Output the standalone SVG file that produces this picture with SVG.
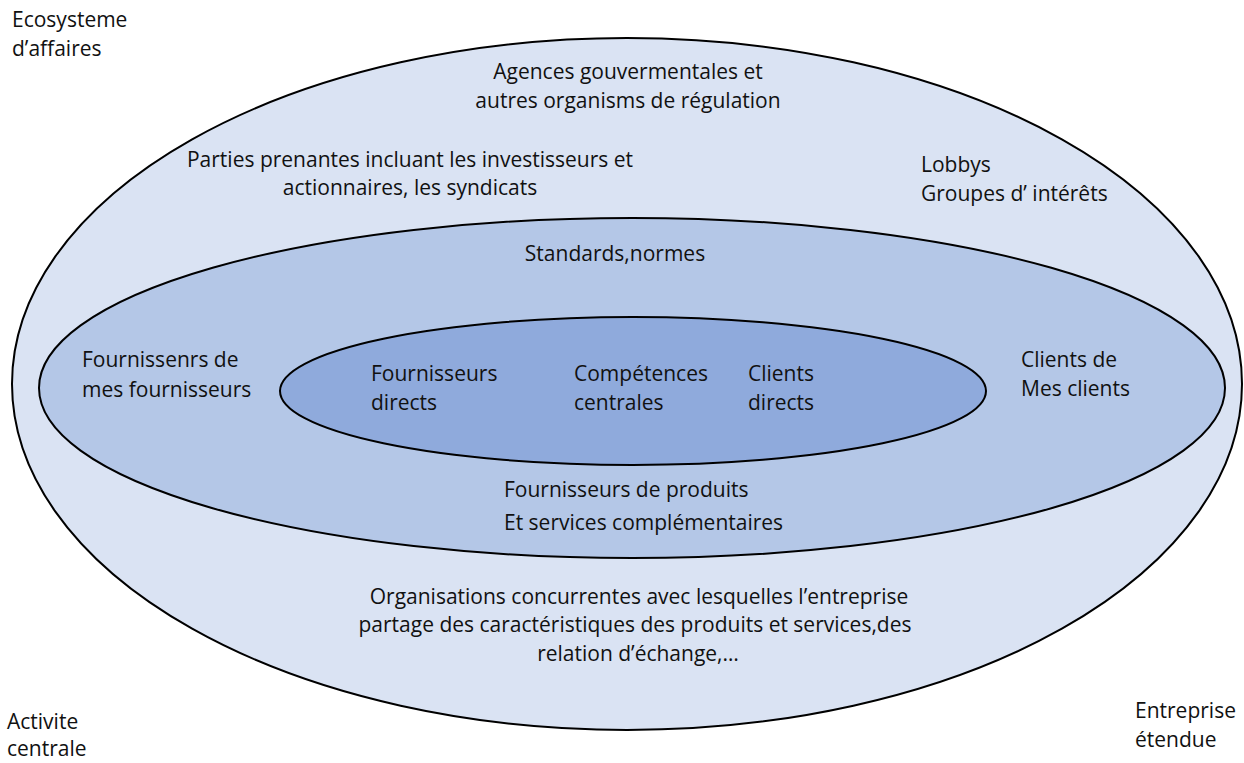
<svg xmlns="http://www.w3.org/2000/svg" width="1244" height="763" viewBox="0 0 1244 763">
<style>
.e{stroke:#000;stroke-width:2}
.outer{fill:#dae3f3}
.mid{fill:#b4c7e7}
.inner{fill:#8faadc}
text{font-family:"Open Sans","Liberation Sans",sans-serif;font-size:21px;fill:#111}
.c{text-anchor:middle}
</style>
<rect x="0" y="0" width="1244" height="763" fill="#fff"/>
<g id="outer-ellipse"><ellipse class="e outer" cx="627" cy="384" rx="615" ry="346"/></g>
<g id="middle-ellipse"><ellipse class="e mid" cx="632" cy="388" rx="593" ry="170"/></g>
<g id="inner-ellipse"><ellipse class="e inner" cx="633" cy="391" rx="353" ry="74"/></g>
<g id="connectors"></g>
<g id="label-ecosysteme"><text x="12" y="27">Ecosysteme</text><text x="12" y="56">d’affaires</text></g>
<g id="label-agences"><text class="c" x="628" y="79">Agences gouvermentales et</text><text class="c" x="628" y="108">autres organisms de régulation</text></g>
<g id="label-parties"><text class="c" x="410" y="167">Parties prenantes incluant les investisseurs et</text><text class="c" x="410" y="195">actionnaires, les syndicats</text></g>
<g id="label-lobbys"><text x="921" y="172">Lobbys</text><text x="921" y="201">Groupes d’ intérêts</text></g>
<g id="label-standards"><text class="c" x="615" y="261">Standards,normes</text></g>
<g id="label-fournissenrs"><text x="82" y="367">Fournissenrs de</text><text x="82" y="397">mes fournisseurs</text></g>
<g id="label-fournisseurs-directs"><text x="371" y="381">Fournisseurs</text><text x="371" y="410">directs</text></g>
<g id="label-competences"><text x="574" y="381">Compétences</text><text x="574" y="410">centrales</text></g>
<g id="label-clients-directs"><text x="748" y="381">Clients</text><text x="748" y="410">directs</text></g>
<g id="label-clients-de"><text x="1021" y="367">Clients de</text><text x="1021" y="396">Mes clients</text></g>
<g id="label-complementaires"><text x="504" y="497">Fournisseurs de produits</text><text x="504" y="530">Et services complémentaires</text></g>
<g id="label-concurrentes"><text class="c" x="639" y="604">Organisations concurrentes avec lesquelles l’entreprise</text><text class="c" x="635" y="632">partage des caractéristiques des produits et services,des</text><text class="c" x="638" y="661">relation d’échange,…</text></g>
<g id="label-activite"><text x="7" y="729">Activite</text><text x="7" y="756">centrale</text></g>
<g id="label-entreprise"><text x="1135" y="718">Entreprise</text><text x="1135" y="747">étendue</text></g>
</svg>
